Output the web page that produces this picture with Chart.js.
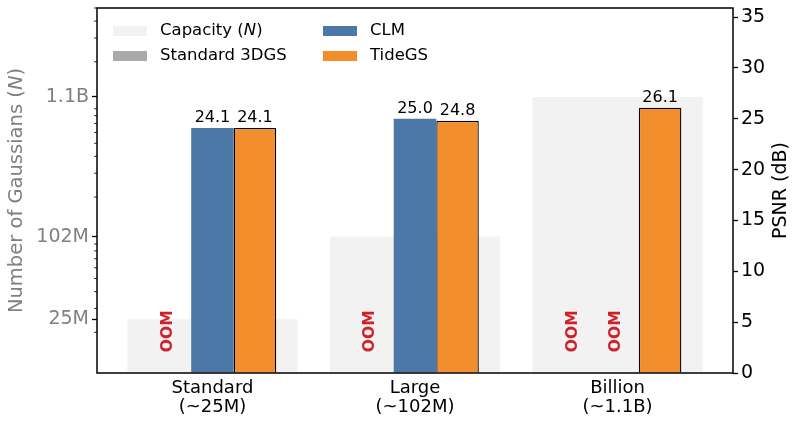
<!DOCTYPE html>
<html>
<head>
<meta charset="utf-8">
<script src="https://cdn.jsdelivr.net/npm/chart.js@4.4.1/dist/chart.umd.min.js"></script>
<style>
html, body { margin: 0; padding: 0; background: #fff; }
#wrap { width: 800px; height: 425px; }
</style>
</head>
<body>
<div id="wrap"><canvas id="grafic" width="800" height="425"></canvas></div>
<script>
// data
const categories = [['Standard', '(~25M)'], ['Large', '(~102M)'], ['Billion', '(~1.1B)']];
const capacity = [25e6, 102e6, 1.1e9];
const psnr3dgs = [null, null, null];
const psnrCLM = [24.1, 25.0, null];
const psnrTide = [24.1, 24.8, 26.1];
const oom3dgs = [true, true, true];
const oomCLM = [false, false, true];
const gaussTicks = [25e6, 102e6, 1.1e9];
const gaussTickLabels = ['25M', '102M', '1.1B'];
const gaussMinor = [2e7, 3e7, 4e7, 5e7, 6e7, 7e7, 8e7, 9e7,
                    2e8, 3e8, 4e8, 5e8, 6e8, 7e8, 8e8, 9e8,
                    2e9, 3e9, 4e9, 5e9];
const psnrTicks = [0, 5, 10, 15, 20, 25, 30, 35];

const FONT = "'DejaVu Sans', sans-serif";
const RED = '#d0202a';

function points(arr) {
    return arr.map((v, i) => ({x: i, y: v}));
}

// draws text where "(N)" gets an italic N
function rich_parts(text) {
    const k = text.indexOf('(N)');
    if (k < 0) return [{t: text, it: false}];
    return [{t: text.slice(0, k + 1), it: false}, {t: 'N', it: true}, {t: text.slice(k + 2), it: false}];
}
function draw_rich(ctx, text, x, y, size, align) {
    const parts = rich_parts(text);
    let total = 0;
    parts.forEach(p => {
        ctx.font = (p.it ? 'italic ' : '') + size + 'px ' + FONT;
        p.w = ctx.measureText(p.t).width;
        total += p.w;
    });
    let cx = align === 'center' ? x - total / 2 : x;
    ctx.textAlign = 'left';
    parts.forEach(p => {
        ctx.font = (p.it ? 'italic ' : '') + size + 'px ' + FONT;
        ctx.fillText(p.t, cx, y);
        cx += p.w;
    });
}

// keep the plot box where the figure has it
function fit_y(width) {
    return s => {
        s.width = width;
        s.paddingTop = 0;
        s.paddingBottom = 0;
    };
}

const decor = {
    id: 'decor',
    afterDatasetsDraw(chart) {
        const ctx = chart.ctx;
        const yP = chart.scales.yP;
        ctx.save();
        // value labels over bars
        ctx.fillStyle = '#000';
        ctx.font = '16px ' + FONT;
        ctx.textAlign = 'center';
        ctx.textBaseline = 'alphabetic';
        [2, 3].forEach(d => {
            const meta = chart.getDatasetMeta(d);
            chart.data.datasets[d].data.forEach((p, i) => {
                if (p.y === null) return;
                const el = meta.data[i];
                ctx.fillText(p.y.toFixed(1), el.x, el.y - 6);
            });
        });
        // OOM marks
        ctx.fillStyle = RED;
        ctx.font = 'bold 15.5px ' + FONT;
        ctx.textBaseline = 'middle';
        [[1, oom3dgs], [2, oomCLM]].forEach(([d, flags]) => {
            const meta = chart.getDatasetMeta(d);
            flags.forEach((f, i) => {
                if (!f) return;
                const x = meta.data[i].x - 2;
                const y = yP.getPixelForValue(4.1);
                ctx.save();
                ctx.translate(x, y);
                ctx.rotate(-Math.PI / 2);
                ctx.fillText('OOM', 0, 0);
                ctx.restore();
            });
        });
        ctx.restore();
    },
    afterDraw(chart) {
        const ctx = chart.ctx;
        const a = chart.chartArea;
        const yG = chart.scales.yG;
        ctx.save();
        // frame
        ctx.strokeStyle = '#000';
        ctx.lineWidth = 1.5;
        ctx.strokeRect(a.left, a.top, a.right - a.left, a.bottom - a.top);
        // minor log ticks
        ctx.lineWidth = 0.8;
        gaussMinor.forEach(v => {
            const y = yG.getPixelForValue(v);
            if (y < a.top || y > a.bottom) return;
            ctx.beginPath();
            ctx.moveTo(a.left - 3, y);
            ctx.lineTo(a.left, y);
            ctx.stroke();
        });
        // legend, two columns
        ctx.textBaseline = 'middle';
        chart.data.datasets.forEach((ds, i) => {
            const col = Math.floor(i / 2), row = i % 2;
            const x = a.left + 16 + col * 210;
            const y = a.top + 23 + row * 25;
            ctx.fillStyle = ds.backgroundColor;
            ctx.fillRect(x, y - 5, 34, 10);
            ctx.fillStyle = '#000';
            draw_rich(ctx, ds.label, x + 47, y, 16.5, 'left');
        });
        // axis titles
        const cy = (a.top + a.bottom) / 2;
        ctx.textBaseline = 'middle';
        ctx.fillStyle = '#808080';
        ctx.save();
        ctx.translate(17, cy);
        ctx.rotate(-Math.PI / 2);
        draw_rich(ctx, 'Number of Gaussians (N)', 0, 0, 19.5, 'center');
        ctx.restore();
        ctx.fillStyle = '#000';
        ctx.save();
        ctx.translate(781, cy);
        ctx.rotate(-Math.PI / 2);
        draw_rich(ctx, 'PSNR (dB)', 0, 0, 19, 'center');
        ctx.restore();
        ctx.restore();
    }
};

const data = {
    datasets: [
        {label: 'Capacity (N)', data: points(capacity), yAxisID: 'yG', grouped: false, order: 1,
         backgroundColor: '#f2f2f2', categoryPercentage: 0.84, barPercentage: 1},
        {label: 'Standard 3DGS', data: points(psnr3dgs), yAxisID: 'yP', order: 0,
         backgroundColor: '#aaaaaa', categoryPercentage: 0.63, barPercentage: 1},
        {label: 'CLM', data: points(psnrCLM), yAxisID: 'yP', order: 0,
         backgroundColor: '#4c78a8', categoryPercentage: 0.63, barPercentage: 1},
        {label: 'TideGS', data: points(psnrTide), yAxisID: 'yP', order: 0,
         backgroundColor: '#f28e2b', borderColor: '#000', borderWidth: 1.3,
         categoryPercentage: 0.63, barPercentage: 1}
    ]
};

const config = {
    type: 'bar',
    data: data,
    options: {
        responsive: false,
        animation: false,
        layout: {padding: {top: 8, left: 0, right: 0, bottom: 0}},
        plugins: {legend: {display: false}, tooltip: {enabled: false}},
        scales: {
            x: {
                type: 'linear', min: -0.57, max: 2.57, offset: false,
                afterBuildTicks: s => { s.ticks = categories.map((c, i) => ({value: i})); },
                afterFit: s => { s.height = 52; },
                grid: {display: false},
                border: {display: false},
                ticks: {
                    autoSkip: false, maxRotation: 0, padding: -3, color: '#000',
                    font: {family: FONT, size: 18, lineHeight: 1.1},
                    callback: v => categories[Math.round(v)]
                }
            },
            yG: {
                type: 'logarithmic', position: 'left', min: 1e7, max: 5e9,
                afterBuildTicks: s => { s.ticks = gaussTicks.map(v => ({value: v})); },
                afterFit: fit_y(97),
                grid: {drawOnChartArea: false, tickLength: 5, tickColor: '#000', tickWidth: 1.3},
                border: {display: false},
                ticks: {
                    autoSkip: false, padding: 3, color: '#808080',
                    font: {family: FONT, size: 19},
                    callback: (v, i) => gaussTickLabels[i]
                }
            },
            yP: {
                type: 'linear', position: 'right', min: 0, max: 35.9,
                afterBuildTicks: s => { s.ticks = psnrTicks.map(v => ({value: v})); },
                afterFit: fit_y(67),
                grid: {drawOnChartArea: false, tickLength: 5, tickColor: '#000', tickWidth: 1.3},
                border: {display: false},
                ticks: {
                    autoSkip: false, padding: 3, color: '#000',
                    font: {family: FONT, size: 19},
                    callback: v => v
                }
            }
        }
    },
    plugins: [decor]
};

const grafica = new Chart(document.getElementById('grafic'), config);
</script>
</body>
</html>
